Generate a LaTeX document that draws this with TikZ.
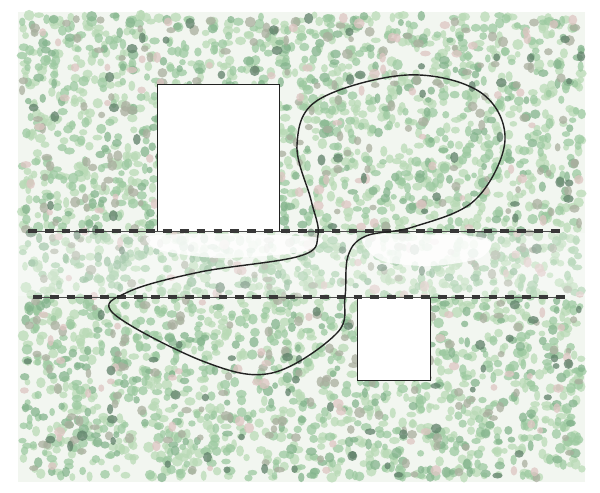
\documentclass[tikz,border=0pt]{standalone}
\usetikzlibrary{positioning}

\definecolor{bgbase}{HTML}{F2F6F0}
\definecolor{dotA}{HTML}{B9DAB6}
\definecolor{dotB}{HTML}{9CC9A0}
\definecolor{dotC}{HTML}{84B48D}
\definecolor{dotD}{HTML}{5F8069}
\definecolor{dotE}{HTML}{DDC5C2}
\definecolor{dotF}{HTML}{A9AE9E}
\definecolor{ink}{HTML}{222222}

\begin{document}
\begin{tikzpicture}[
    x=0.025cm, y=-0.025cm,
    box/.style={draw=ink, fill=white, line width=0.9pt, inner sep=0pt, anchor=north west},
    guideline/.style={draw=ink!80, line width=0.4pt},
    dashline/.style={draw=ink!90, line width=2.2pt, dash pattern=on 6.2pt off 5.8pt},
    loopline/.style={draw=ink, line width=1pt}
  ]
    \useasboundingbox (0,0) rectangle (600,493);
    \fill[white] (0,0) rectangle (600,493);

    % speckled ground
    \fill[bgbase] (18,12) rectangle (585,482);
    \pgfmathsetseed{4217}
    \foreach \c/\n in {dotA/1700,dotB/1200,dotC/420,dotF/330,dotE/150,dotD/110}{
      \foreach \i in {1,...,\n}{
        \pgfmathsetmacro\px{22+560*rnd}
        \pgfmathsetmacro\py{15+463*rnd}
        \pgfmathsetmacro\rx{2+2*rnd}
        \pgfmathsetmacro\ry{2+2*rnd}
        \fill[\c, fill opacity=.75] (\px,\py) ellipse[x radius=\rx pt, y radius=\ry pt];
      }
    }

    % lighter strip between the lines
    \fill[white, opacity=.3] (18,233) rectangle (585,296);
    \fill[white, opacity=.8] plot[smooth cycle] coordinates {(150,236) (230,234) (320,238) (300,252) (220,258) (160,250)};
    \fill[white, opacity=.8] plot[smooth cycle] coordinates {(365,236) (450,235) (490,240) (480,258) (430,266) (380,260)};

    % rooms
    \node[box, minimum width=3.05cm, minimum height=3.675cm] (roomA) at (157,84) {};
    \node[box, minimum width=1.825cm, minimum height=2.075cm] (roomB) at (357,297) {};

    % boundary lines
    \coordinate (upL) at (28,231);
    \coordinate (upR) at (560,231);
    \coordinate (loL) at (33,297);
    \coordinate (loR) at (565,297);
    \draw[guideline] (upL) -- (upR);
    \draw[dashline] (upL) -- (upR);
    \draw[guideline] (loL) -- (loR);
    \draw[dashline] (loL) -- (loR);

    % closed route
    \draw[loopline] plot[smooth cycle, tension=0.6] coordinates {
      (407,75) (480,92) (505,140) (475,200) (413,227) (366,236) (348,256)
      (345,297) (337,333) (272,373) (205,362) (114,314) (128,292)
      (200,272) (300,256) (318,235) (311,200) (297,145) (318,100)};
  \end{tikzpicture}
\end{document}
